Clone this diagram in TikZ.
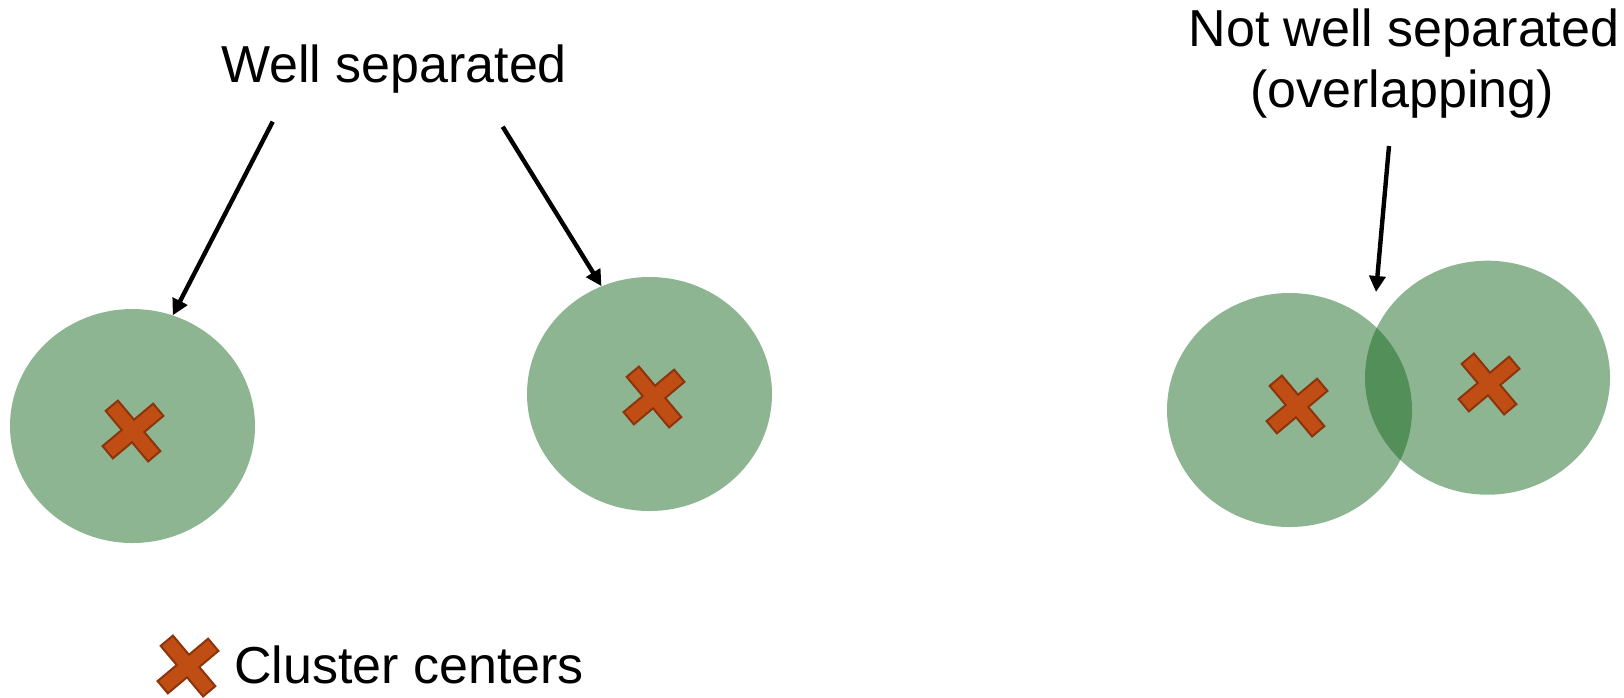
\documentclass[tikz,border=0pt]{standalone}
\usepackage{fontspec}
\setmainfont{Liberation Sans}
\usepackage{xcolor}
\usetikzlibrary{arrows.meta,shapes.geometric}

\definecolor{clustergreen}{RGB}{18,101,28}
\definecolor{markfill}{RGB}{192,78,20}
\definecolor{markline}{RGB}{140,52,12}

\tikzset{
  pics/centermark/.style={code={
      \draw[markline, fill=markfill, line width=2pt, line join=miter, rotate=40]
          (8,33) -- (8,8) -- (33,8) -- (33,-8) -- (8,-8) -- (8,-33)
          -- (-8,-33) -- (-8,-8) -- (-33,-8) -- (-33,8) -- (-8,8) -- (-8,33) -- cycle;
  }}
}

\begin{document}
\begin{tikzpicture}[x=1pt, y=-1pt,
    cluster/.style={ellipse, fill=clustergreen, fill opacity=0.48, minimum width=245pt, minimum height=234pt, inner sep=0pt},
    note/.style={font=\fontsize{52}{54}\selectfont, inner sep=0pt, anchor=base},
    pointer/.style={line width=4.4pt, -{Triangle[length=16pt,width=16pt]}}]
                \useasboundingbox (0,0) rectangle (1624,697);

                % clusters
                \node[cluster] (c1) at (132.5,426) {};
                \node[cluster] (c2) at (649.5,394) {};
                \node[cluster] (c3) at (1289.5,410) {};
                \node[cluster] (c4) at (1487.5,377.7) {};

                % centers
                \pic at (133,431) {centermark};
                \pic at (654,397) {centermark};
                \pic at (1297,406) {centermark};
                \pic at (1489,384) {centermark};

                % labels
                \node[note] (well) at (394,82) {Well separated};
                \node[note] (notwell) at (1404,46) {Not well separated};
                \node[note] (overlap) at (1402,107) {(overlapping)};

                \pic at (188,666) {centermark};
                \node[note, anchor=base west] (legend) at (234,683) {Cluster centers};

                % pointers
                \coordinate (w1) at (272.7,121.7);
                \coordinate (w2) at (502.7,126.7);
                \coordinate (n1) at (1389,146);
                \coordinate (n2) at (1376,292);
                \draw[pointer] (w1) -- (c1.70);
                \draw[pointer] (w2) -- (c2.114);
                \draw[pointer] (n1) -- (n2);
            \end{tikzpicture}
\end{document}
